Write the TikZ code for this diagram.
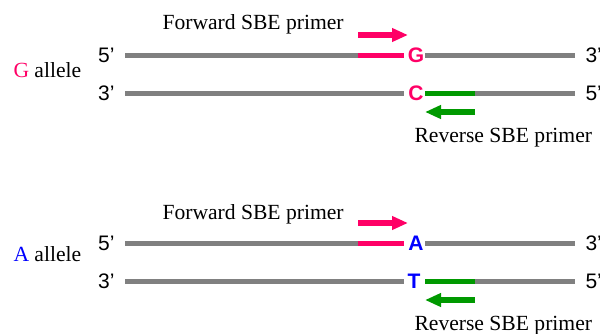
\documentclass[tikz,border=0pt]{standalone}
\usepackage{fontspec}
\setmainfont{Liberation Serif}
\setsansfont{Liberation Sans}
\usetikzlibrary{arrows.meta}

\begin{document}
\begin{tikzpicture}[x=1pt,y=-1pt, line width=5pt]
        \definecolor{fwdcolor}{RGB}{255, 0, 102}
        \definecolor{revcolor}{RGB}{0, 153, 0}
        \definecolor{strandcolor}{RGB}{128, 128, 128}
        \definecolor{acolor}{RGB}{0, 0, 255}
        \tikzset{
            txtlabel/.style={font=\fontsize{21.6}{25}\selectfont, inner sep=0pt, anchor=base west},
            endlabel/.style={font=\sffamily\fontsize{21}{25}\selectfont, inner sep=0pt},
            baselabel/.style={font=\sffamily\bfseries\fontsize{21}{25}\selectfont, inner sep=0pt},
            primerarrow/.style={line width=6pt, -{Triangle[length=16pt,width=13pt]}}
        }
        \useasboundingbox (0,0) rectangle (600,333);

        \begin{scope}[shift={(0,0)}]
            % Draw strands
            \draw[strandcolor] (125,55) -- (404,55);
            \draw[strandcolor] (425,55) -- (575,55);
            \draw[strandcolor] (125,93) -- (404,93);
            \draw[strandcolor] (425,93) -- (575,93);

            % Draw primers
            \draw[fwdcolor] (358,55) -- (404,55);
            \draw[revcolor] (425,93) -- (475,93);
            \draw[fwdcolor, primerarrow] (358,35) -- (408,35);
            \draw[revcolor, primerarrow] (475,112) -- (425,112);

            % Label bases and ends
            \node[baselabel, text=fwdcolor] (gtop) at (416,55) {G};
            \node[baselabel, text=fwdcolor] (gbot) at (416,93) {C};
            \node[endlabel, anchor=east] (gfive) at (117,55) {5'};
            \node[endlabel, anchor=east] (gthree) at (117,93) {3'};
            \node[endlabel, anchor=west] (gthreer) at (583,55) {3'};
            \node[endlabel, anchor=west] (gfiver) at (583,93) {5'};

            % Label primers and allele
            \node[txtlabel] (gfwd) at (160,29) {Forward SBE primer};
            \node[txtlabel] (grev) at (412,142) {Reverse SBE primer};
            \node[txtlabel] (gallele) at (11,77) {\textcolor{fwdcolor}{G} allele};
        \end{scope}

        \begin{scope}[shift={(0,188)}]
            % Draw strands
            \draw[strandcolor] (125,55) -- (404,55);
            \draw[strandcolor] (425,55) -- (575,55);
            \draw[strandcolor] (125,93) -- (404,93);
            \draw[strandcolor] (425,93) -- (575,93);

            % Draw primers
            \draw[fwdcolor] (358,55) -- (404,55);
            \draw[revcolor] (425,93) -- (475,93);
            \draw[fwdcolor, primerarrow] (358,35) -- (408,35);
            \draw[revcolor, primerarrow] (475,112) -- (425,112);

            % Label bases and ends
            \node[baselabel, text=acolor] (atop) at (416,55) {A};
            \node[baselabel, text=acolor] (abot) at (414,93) {T};
            \node[endlabel, anchor=east] (afive) at (117,55) {5'};
            \node[endlabel, anchor=east] (athree) at (117,93) {3'};
            \node[endlabel, anchor=west] (athreer) at (583,55) {3'};
            \node[endlabel, anchor=west] (afiver) at (583,93) {5'};

            % Label primers and allele
            \node[txtlabel] (afwd) at (160,31) {Forward SBE primer};
            \node[txtlabel] (arev) at (412,142) {Reverse SBE primer};
            \node[txtlabel] (aallele) at (11,73) {\textcolor{acolor}{A} allele};
        \end{scope}
    \end{tikzpicture}
\end{document}
